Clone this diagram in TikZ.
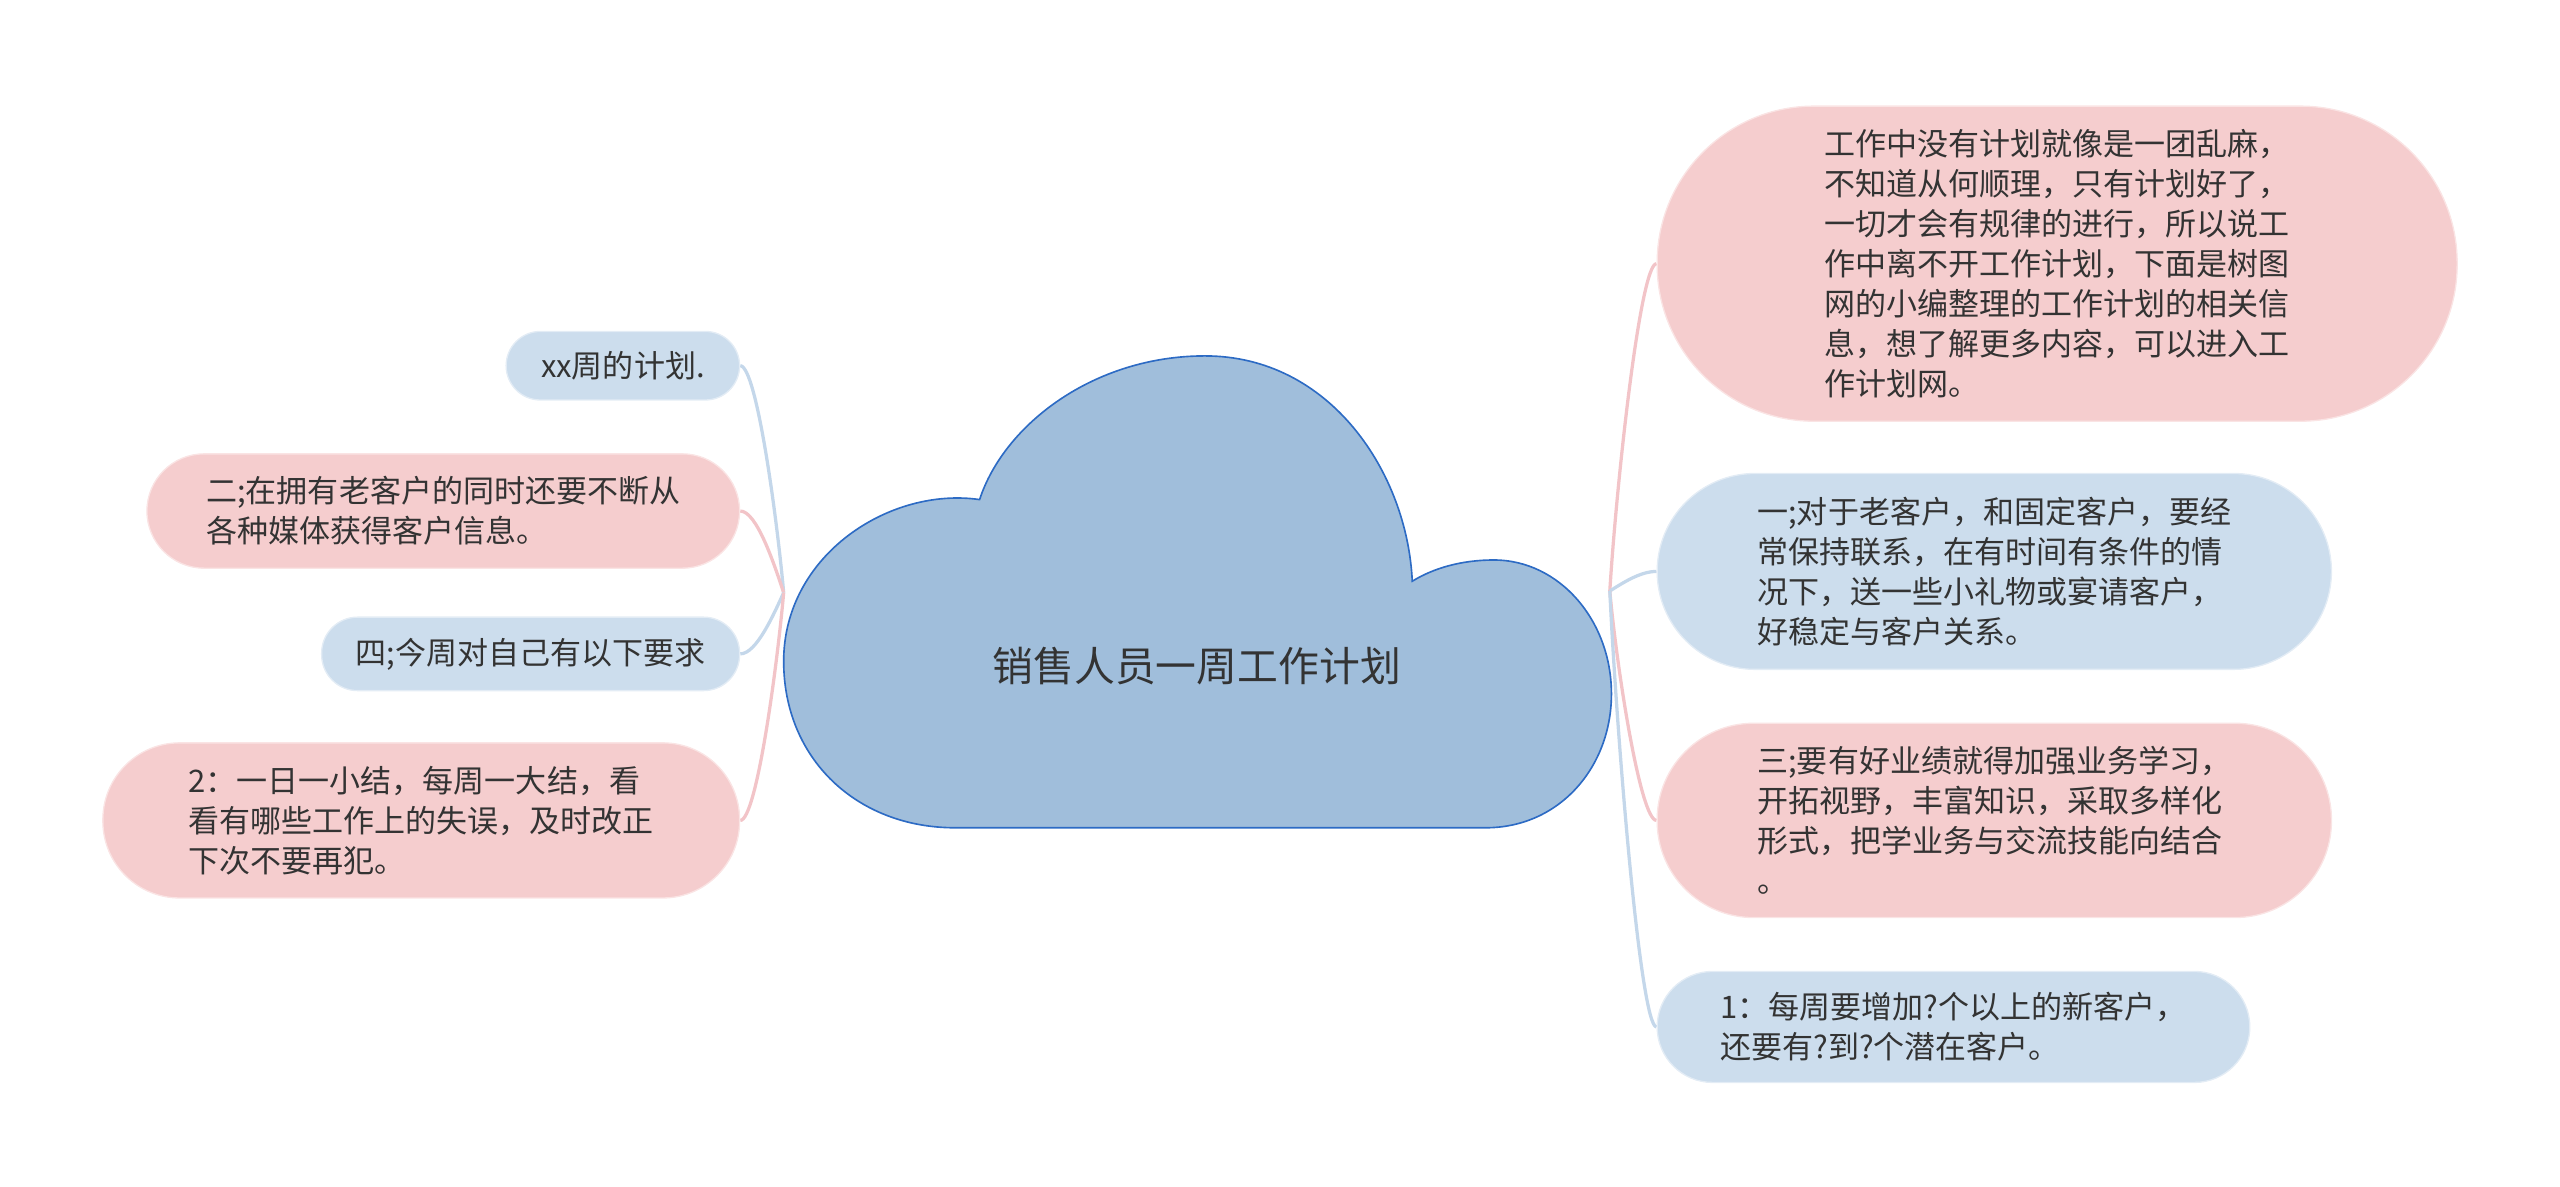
\documentclass[tikz,border=0pt]{standalone}
\usepackage{fontspec}
\newfontfamily\cjkfont{Noto Sans CJK SC}
\usetikzlibrary{backgrounds}
\definecolor{pinkfill}{HTML}{F5CDCE}
\definecolor{bluefill}{HTML}{CCDDED}
\definecolor{cloudfill}{HTML}{A0BEDB}
\definecolor{cloudedge}{HTML}{2D6BC4}
\definecolor{pinkline}{HTML}{F2C4C8}
\definecolor{blueline}{HTML}{C4D7EA}
\definecolor{textgray}{HTML}{333333}
\tikzset{
  topic/.style={rectangle, inner sep=0pt, align=left, text=textgray, line width=0.8pt,
    font=\cjkfont\fontsize{19}{24.5}\selectfont},
  pinkbox/.style={topic, fill=pinkfill, draw=pinkfill!55!white},
  bluebox/.style={topic, fill=bluefill, draw=bluefill!55!white},
  pinklink/.style={draw=pinkline, line width=2pt},
  bluelink/.style={draw=blueline, line width=2pt},
  cloudshape/.style={fill=cloudfill, draw=cloudedge, line width=1pt},
}
\begin{document}
\begin{tikzpicture}[x=1pt, y=-1pt]
    \useasboundingbox (0,0) rectangle (1568,727);

    \draw[cloudshape] (600,306) .. controls (545,298) and (480,340) .. (480,405)
      .. controls (480,465) and (525,507) .. (585,507) -- (910,507)
      .. controls (955,507) and (987,470) .. (987,425)
      .. controls (987,380) and (955,343) .. (915,343)
      .. controls (895,343) and (878,348) .. (865,356)
      .. controls (862,290) and (815,218) .. (738,218)
      .. controls (670,218) and (615,260) .. (600,306) -- cycle;
    \node[text=textgray, font=\cjkfont\fontsize{25}{30}\selectfont] (root) at (733,408) {销售人员一周工作计划};

    \coordinate (lhub) at (480,363);
    \coordinate (rhub) at (986,362);

    \node[bluebox, minimum width=143, minimum height=42, rounded corners=21] (week) at (381.5,224) {xx周的计划.};
    \node[pinkbox, minimum width=363, minimum height=70, rounded corners=35] (media) at (271.5,313)
    {二;在拥有老客户的同时还要不断从\\各种媒体获得客户信息。};
    \node[bluebox, minimum width=256, minimum height=45, rounded corners=22] (demand) at (325,400.5) {四;今周对自己有以下要求};
    \node[pinkbox, minimum width=390, minimum height=95, rounded corners=47] (review) at (258,502.5)
    {2：一日一小结，每周一大结，看\\看有哪些工作上的失误，及时改正\\下次不要再犯。};

    \node[pinkbox, minimum width=490, minimum height=193, rounded corners=96] (intro) at (1260,161.5)
    {工作中没有计划就像是一团乱麻，\\不知道从何顺理，只有计划好了，\\一切才会有规律的进行，所以说工\\作中离不开工作计划，下面是树图\\网的小编整理的工作计划的相关信\\息，想了解更多内容，可以进入工\\作计划网。};
    \node[bluebox, minimum width=413, minimum height=120, rounded corners=60] (oldcust) at (1221.5,350)
    {一;对于老客户，和固定客户，要经\\常保持联系，在有时间有条件的情\\况下，送一些小礼物或宴请客户，\\好稳定与客户关系。};
    \node[pinkbox, minimum width=413, minimum height=119, rounded corners=59] (study) at (1221.5,502.5)
    {三;要有好业绩就得加强业务学习，\\开拓视野，丰富知识，采取多样化\\形式，把学业务与交流技能向结合\\。};
    \node[bluebox, minimum width=363, minimum height=68, rounded corners=34] (newcust) at (1196.5,629)
    {1：每周要增加?个以上的新客户，\\还要有?到?个潜在客户。};

    \begin{scope}[on background layer]
    \draw[bluelink] (lhub) .. controls +(-4,-45) and +(10,0) .. (week.east);
    \draw[pinklink] (lhub) .. controls +(-6,-18) and +(10,0) .. (media.east);
    \draw[bluelink] (lhub) .. controls +(-6,13) and +(10,0) .. (demand.east);
    \draw[pinklink] (lhub) .. controls +(-4,45) and +(10,0) .. (review.east);
    \draw[pinklink] (rhub) .. controls +(4,-65) and +(-10,0) .. (intro.west);
    \draw[bluelink] (rhub) .. controls +(8,-5) and +(-10,0) .. (oldcust.west);
    \draw[pinklink] (rhub) .. controls +(4,45) and +(-10,0) .. (study.west);
    \draw[bluelink] (rhub) .. controls +(4,85) and +(-10,0) .. (newcust.west);
    \end{scope}
\end{tikzpicture}
\end{document}
